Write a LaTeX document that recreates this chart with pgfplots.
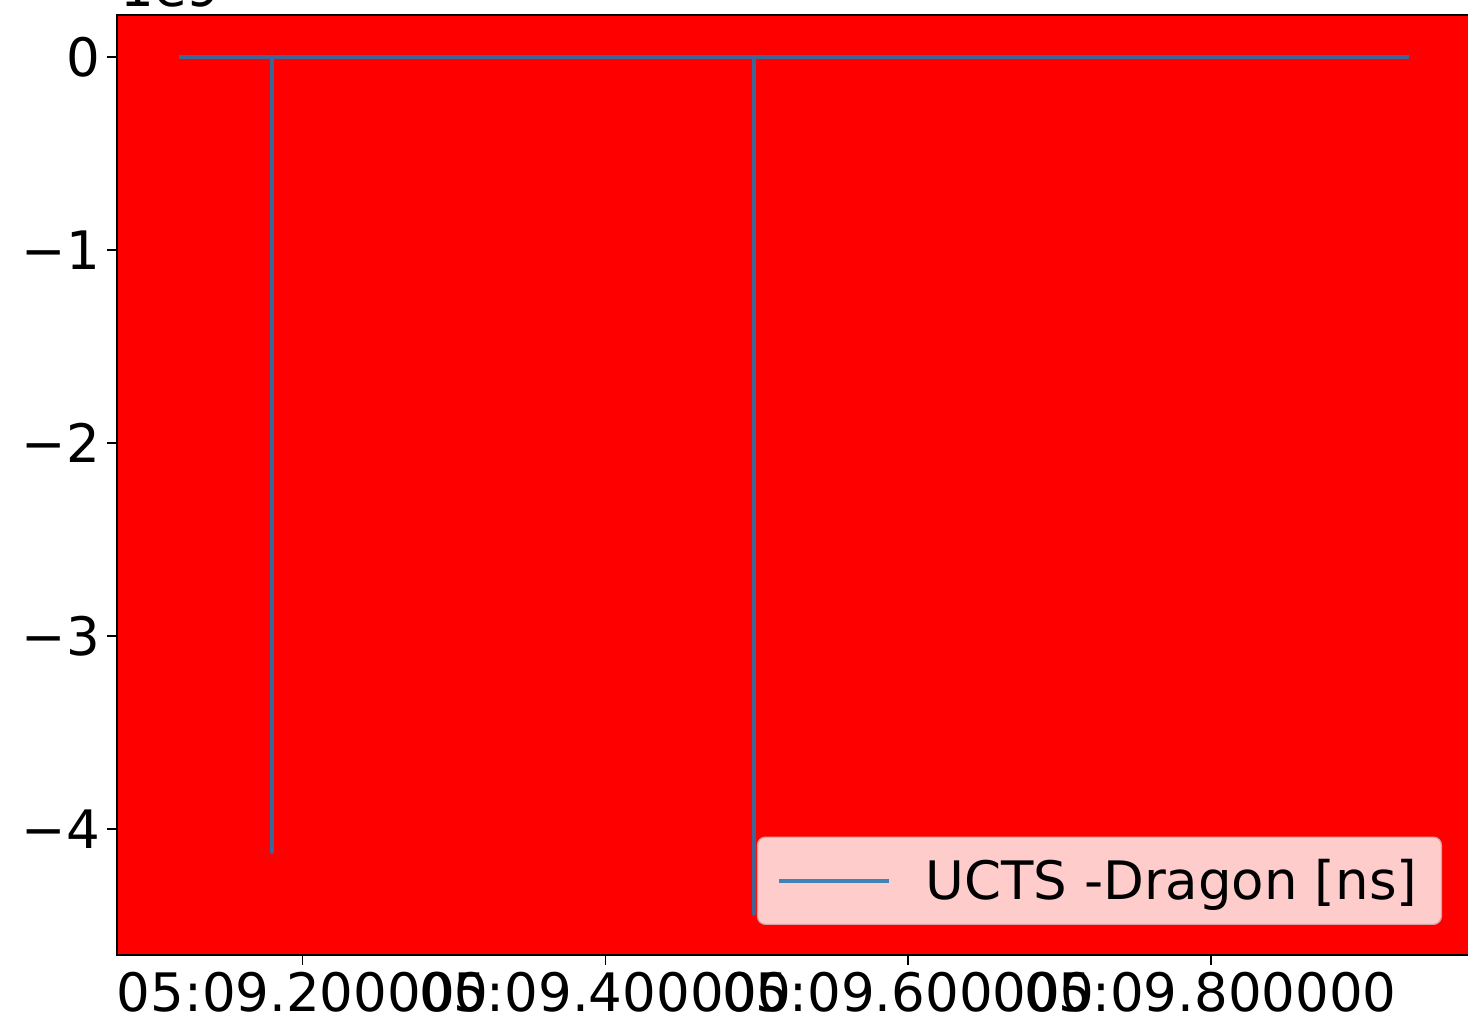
\documentclass[border=0pt]{standalone}
\usepackage{pgfplots}
\pgfplotsset{compat=1.18}
\usepackage{fontspec}
\setmainfont{DejaVu Sans}
\definecolor{lineblue}{HTML}{1F77B4}
\definecolor{legfill}{HTML}{FFCCCC}
\definecolor{legedge}{HTML}{D6A3A3}
\begin{document}
\begin{tikzpicture}
\useasboundingbox (0,0) rectangle (734pt,510pt);
\begin{axis}[
  name=ax,
  at={(58.5pt,32.5pt)}, anchor=south west,
  scale only axis, width=677pt, height=470pt,
  xmin=0.0773, xmax=0.972, ymin=-4.653, ymax=0.2176,
  axis background/.style={fill=red},
  axis line style={black, line width=1pt},
  xtick={0.2,0.4,0.6,0.8},
  xticklabels={05:09.200000,05:09.400000,05:09.600000,05:09.800000},
  ytick={-4,-3,-2,-1,0},
  yticklabels={−4,−3,−2,−1,0},
  tick align=outside, major tick length=5pt,
  xtick pos=bottom, ytick pos=left,
  tick style={black, line width=0.8pt},
  ticklabel style={font=\fontsize{26.5}{32}\selectfont},
  legend style={at={(1,0)}, anchor=south east, xshift=-14.5pt, yshift=15pt,
    fill=legfill, draw=legedge, rounded corners=4pt, line width=0.6pt,
    font=\fontsize{26.5}{32}\selectfont, inner xsep=10pt, inner ysep=9pt,
    /tikz/every odd column/.append style={column sep=15pt}},
  legend image code/.code={\draw[#1, line width=2pt] (0pt,0pt) -- (55pt,0pt);},
  legend cell align=left,
]
\addplot[color=lineblue, opacity=0.85, line width=2pt, line join=round] coordinates {
  (0.118,0) (0.1795,0) (0.1795,-4.12) (0.1795,0) (0.498,0) (0.498,-4.44) (0.498,0) (0.931,0)
};
\addlegendentry{UCTS -Dragon [ns]}
\end{axis}
\node[anchor=base west, font=\fontsize{26.5}{32}\selectfont, inner sep=0pt] at ([xshift=1.5pt, yshift=4pt]ax.north west) {1e9};
\end{tikzpicture}
\end{document}
